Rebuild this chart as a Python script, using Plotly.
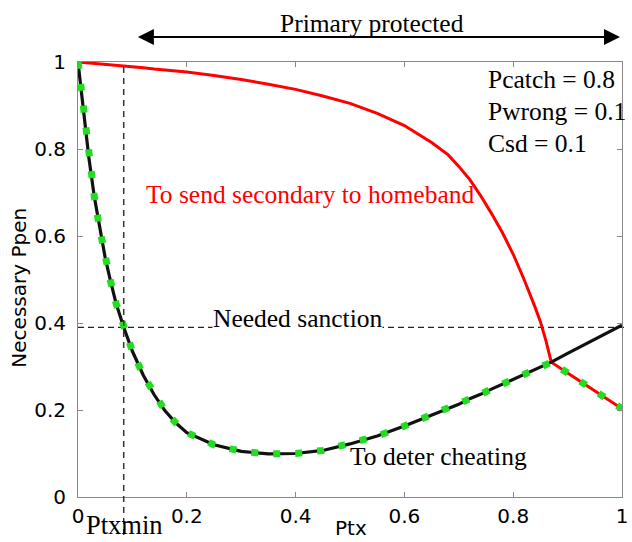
import plotly.graph_objects as go

# ---- data ----
ptx = [0, 0.01, 0.02, 0.03, 0.04, 0.05, 0.06, 0.07, 0.084, 0.1, 0.12, 0.14, 0.16,
       0.18, 0.2, 0.25, 0.3, 0.35, 0.4, 0.45, 0.5, 0.55, 0.6, 0.622, 0.65, 0.68,
       0.7, 0.72, 0.74, 0.76, 0.78, 0.8, 0.82, 0.84, 0.85, 0.86, 0.87, 0.9, 0.95, 1.0]
deter = [1.0, 0.885, 0.78, 0.69, 0.615, 0.55, 0.495, 0.445, 0.39, 0.335, 0.28,
         0.235, 0.198, 0.17, 0.148, 0.12, 0.105, 0.099, 0.1, 0.107, 0.122, 0.14,
         0.163, 0.174, 0.187, 0.203, 0.213, 0.226, 0.236, 0.248, 0.259, 0.27,
         0.282, 0.293, 0.299, 0.304, 0.31, 0.33, 0.362, 0.395]
send = [1.0, 0.999, 0.998, 0.997, 0.996, 0.995, 0.994, 0.993, 0.991, 0.989, 0.987,
        0.984, 0.982, 0.979, 0.977, 0.969, 0.96, 0.949, 0.937, 0.922, 0.905, 0.882,
        0.854, 0.837, 0.815, 0.787, 0.76, 0.73, 0.693, 0.652, 0.608, 0.558,
        0.5, 0.437, 0.403, 0.36, 0.31, 0.285, 0.243, 0.203]
necessary = [min(a, b) for a, b in zip(deter, send)]

ptx_min = 0.084
needed_sanction = 0.39
tick_vals = [0, 0.2, 0.4, 0.6, 0.8, 1]
tick_text = ["0", "0.2", "0.4", "0.6", "0.8", "1"]
params = ["Pcatch = 0.8", "Pwrong = 0.1", "Csd = 0.1"]

W, H = 632, 542
L, R, T, B = 78, 4, 62, 45
PW, PH = W - L - R, H - T - B


def px(xp):
    return (xp - L) / PW


def py(yp):
    return (H - B - yp) / PH


SERIF = "Liberation Serif, Times New Roman, serif"
SANS = "DejaVu Sans, Liberation Sans, Arial, sans-serif"
FS = 25.5

fig = go.Figure()
fig.add_trace(go.Scatter(x=ptx, y=send, mode="lines",
                         line=dict(color="#ff0000", width=3), hoverinfo="skip"))
fig.add_trace(go.Scatter(x=ptx, y=deter, mode="lines",
                         line=dict(color="#111111", width=3.2), hoverinfo="skip"))
fig.add_trace(go.Scatter(x=ptx, y=necessary, mode="lines",
                         line=dict(color="#22dd22", width=7, dash="7px,15px"),
                         hoverinfo="skip"))

# dashed reference lines
fig.add_shape(type="line", xref="x", yref="paper", x0=ptx_min, x1=ptx_min,
              y0=py(535), y1=1, line=dict(color="#333333", width=1.5, dash="6px,5px"))
fig.add_shape(type="line", xref="paper", yref="y", x0=0, x1=1.005,
              y0=needed_sanction, y1=needed_sanction, layer="below",
              line=dict(color="#222222", width=1.2, dash="6px,4px"))

ann = []
ann.append(dict(text="To send secondary to homeband", x=px(145), y=py(194),
                xanchor="left", yanchor="middle", font=dict(family=SERIF, size=FS, color="#ff0000")))
ann.append(dict(text="Needed sanction", x=px(213), y=py(318), xanchor="left", yanchor="middle",
                bgcolor="white", borderpad=0, font=dict(family=SERIF, size=FS, color="black")))
ann.append(dict(text="To deter cheating", x=px(351), y=py(456), xanchor="left", yanchor="middle",
                font=dict(family=SERIF, size=FS, color="black")))
for i, t in enumerate(params):
    ann.append(dict(text=t, x=px(491), y=py(79 + 32 * i), xanchor="left", yanchor="middle",
                    font=dict(family=SERIF, size=FS, color="black")))
ann.append(dict(text="Primary protected", x=px(375), y=py(23), xanchor="center", yanchor="middle",
                font=dict(family=SERIF, size=FS, color="black")))
ann.append(dict(text="Ptxmin", x=px(125), y=py(541), xanchor="center", yanchor="bottom",
                borderpad=0, font=dict(family=SERIF, size=26.5, color="black")))
ann.append(dict(text="Ptx", x=px(354), y=py(541), xanchor="center", yanchor="bottom",
                borderpad=0, font=dict(family=SANS, size=20, color="black")))
ann.append(dict(text="Necessary Ppen", x=px(18), y=py(288), xanchor="center", yanchor="middle",
                textangle=-90, font=dict(family=SANS, size=20, color="black")))
for a in ann:
    a.update(xref="paper", yref="paper", showarrow=False)

# double-headed arrow
ann.append(dict(text="", xref="x", yref="paper", x=px(626), y=py(37),
                axref="x", ax=px(137), ayref="pixel", ay=0,
                showarrow=True, arrowhead=2, startarrowhead=2, arrowside="end+start",
                arrowsize=1.6, startarrowsize=1.6, arrowwidth=2, arrowcolor="black"))

axis_common = dict(range=[0, 1], showgrid=False, zeroline=False, showline=True,
                   linecolor="#888888", linewidth=1, mirror="ticks", ticks="inside",
                   ticklen=5, tickcolor="#888888", tickvals=tick_vals, ticktext=tick_text,
                   ticklabeloverflow="allow",
                   tickfont=dict(family=SANS, size=20, color="black"))

fig.update_layout(
    width=W, height=H, margin=dict(l=L, r=R, t=T, b=B),
    paper_bgcolor="white", plot_bgcolor="white", showlegend=False,
    xaxis=dict(**axis_common, ticklabelstandoff=1),
    yaxis=dict(**axis_common, ticklabelstandoff=7),
    annotations=ann,
)

fig.write_html("out.html")
